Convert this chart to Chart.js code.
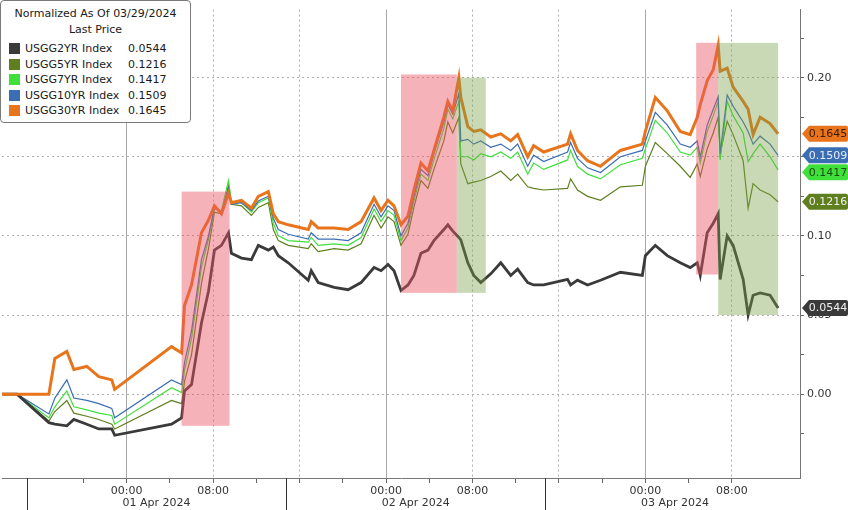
<!DOCTYPE html>
<html>
<head>
<meta charset="utf-8">
<script src="https://cdn.jsdelivr.net/npm/chart.js@4.4.1/dist/chart.umd.min.js"></script>
<style>
	body { margin: 0; background: #fff; }
	#wrap { position: relative; width: 848px; height: 510px; }
	#legend {
		position: absolute; left: 0; top: 0; width: 189px; height: 121px;
		background: #fff; border: 1px solid #7a7a7a; border-radius: 4px;
		font-family: "DejaVu Sans", sans-serif; font-size: 11px; color: #1a1a1a;
	}
	#legend .t { text-align: center; line-height: 16px; }
	#legend .row { position: relative; height: 15.5px; line-height: 15.5px; }
	#legend .sw { position: absolute; left: 8px; top: 2px; width: 11px; height: 11px; }
	#legend .nm { position: absolute; left: 24px; }
	#legend .vl { position: absolute; left: 127px; }
</style>
</head>
<body>
<div id="wrap">
	<canvas id="chart" width="848" height="510"></canvas>
	<div id="legend"></div>
</div>
<script>
// hours relative to 01 Apr 2024 00:00
const hours = [-11.54,-10.15,-7.2,-6.65,-5.54,-4.89,-3.69,-2.58,-1.38,-1.11,
	4.15,5.08,5.35,6.0,6.92,7.57,8.12,8.77,9.42,9.69,
	10.62,11.54,12.18,13.11,13.57,14.03,14.95,16.8,17.08,17.72,
	19.2,20.49,21.69,22.89,23.54,24.18,24.74,25.38,26.03,26.58,
	27.23,27.88,28.43,29.35,29.72,30.18,30.74,30.92,31.57,32.12,
	32.77,33.69,34.62,35.54,36.18,37.11,37.66,38.59,40.8,41.08,
	41.72,42.65,43.85,45.69,47.72,48.0,48.92,50.03,51.23,52.15,
	52.8,53.08,53.72,54.28,54.74,54.92,55.57,56.12,57.05,57.51,
	57.97,58.62,59.54,60.28];

const usgg2 = [0,0,-0.018,-0.019,-0.020,-0.016,-0.019,-0.022,-0.022,-0.026,
	-0.019,-0.015,0.002,0.006,0.045,0.065,0.091,0.094,0.102,0.089,
	0.086,0.085,0.094,0.091,0.093,0.0875,0.083,0.072,0.078,0.0705,
	0.0675,0.066,0.0705,0.080,0.078,0.082,0.078,0.0655,0.069,0.075,
	0.089,0.091,0.097,0.104,0.107,0.103,0.099,0.0975,0.083,0.075,
	0.0705,0.076,0.083,0.075,0.079,0.0705,0.069,0.069,0.0725,0.069,
	0.072,0.069,0.072,0.077,0.075,0.0875,0.094,0.0875,0.083,0.08,
	0.083,0.075,0.102,0.108,0.114,0.0725,0.10,0.094,0.0725,0.05,
	0.0625,0.064,0.0625,0.0544];

const usgg5 = [0,0,-0.017,-0.011,-0.004,-0.012,-0.014,-0.016,-0.019,-0.022,
	-0.004,-0.006,0.008,0.025,0.07,0.092,0.115,0.114,0.132,0.12,
	0.119,0.113,0.118,0.121,0.104,0.097,0.094,0.092,0.095,0.090,
	0.092,0.091,0.095,0.113,0.105,0.112,0.109,0.094,0.101,0.118,
	0.135,0.130,0.142,0.160,0.172,0.165,0.175,0.1455,0.133,0.134,
	0.135,0.1375,0.141,0.135,0.139,0.131,0.130,0.129,0.130,0.136,
	0.129,0.125,0.1225,0.131,0.132,0.144,0.159,0.152,0.144,0.137,
	0.1455,0.1375,0.155,0.165,0.175,0.152,0.1725,0.164,0.1475,0.1175,
	0.133,0.129,0.126,0.1216];

const usgg7 = [0,0,-0.015,-0.008,0.002,-0.008,-0.010,-0.012,-0.0135,-0.019,
	0.004,0.001,0.015,0.035,0.08,0.098,0.117,0.116,0.135,0.122,
	0.121,0.115,0.121,0.124,0.108,0.100,0.097,0.096,0.099,0.094,
	0.095,0.094,0.099,0.117,0.109,0.116,0.113,0.097,0.105,0.122,
	0.139,0.135,0.148,0.168,0.18,0.174,0.185,0.15,0.150,0.148,
	0.152,0.150,0.153,0.149,0.153,0.139,0.146,0.142,0.148,0.154,
	0.144,0.139,0.136,0.145,0.149,0.155,0.173,0.165,0.153,0.151,
	0.156,0.146,0.166,0.176,0.185,0.148,0.185,0.176,0.165,0.147,
	0.152,0.158,0.150,0.1417];

const usgg10 = [0,0,-0.0125,-0.0025,0.009,-0.0025,-0.004,-0.006,-0.009,-0.015,
	0.009,0.006,0.02,0.04,0.085,0.10,0.118,0.115,0.13,0.12,
	0.121,0.116,0.122,0.125,0.111,0.104,0.101,0.098,0.102,0.098,
	0.098,0.097,0.102,0.12,0.112,0.119,0.116,0.100,0.108,0.125,
	0.142,0.138,0.152,0.172,0.183,0.177,0.190,0.160,0.161,0.158,
	0.160,0.156,0.158,0.154,0.158,0.144,0.151,0.147,0.153,0.159,
	0.149,0.143,0.140,0.150,0.154,0.160,0.178,0.170,0.158,0.156,
	0.160,0.150,0.170,0.180,0.188,0.152,0.189,0.182,0.172,0.166,
	0.158,0.163,0.158,0.1509];

const usgg30 = [0,0,0,0.0225,0.027,0.0156,0.0175,0.011,0.009,0.003,
	0.030,0.026,0.056,0.069,0.102,0.110,0.119,0.114,0.127,0.121,
	0.1225,0.1175,0.125,0.128,0.114,0.109,0.107,0.104,0.109,0.105,
	0.105,0.104,0.109,0.124,0.116,0.1225,0.119,0.107,0.1125,0.129,
	0.146,0.141,0.154,0.175,0.185,0.179,0.200,0.1875,0.169,0.166,
	0.167,0.1625,0.1645,0.160,0.164,0.150,0.157,0.153,0.158,0.1645,
	0.154,0.1475,0.144,0.154,0.158,0.166,0.1875,0.179,0.166,0.164,
	0.175,0.183,0.198,0.205,0.2205,0.204,0.206,0.194,0.185,0.180,
	0.164,0.175,0.171,0.1645];

const seriesNames = ['USGG2YR Index', 'USGG5YR Index', 'USGG7YR Index', 'USGG10YR Index', 'USGG30YR Index'];
const lastPrices = ['0.0544', '0.1216', '0.1417', '0.1509', '0.1645'];

// shaded spans: start hour, end hour, top value, bottom value
const spanStart = [5.08, 25.38, 30.55, 52.7, 54.74];
const spanEnd = [9.51, 30.55, 33.23, 54.74, 60.28];
const spanTop = [0.128, 0.202, 0.200, 0.222, 0.222];
const spanBottom = [-0.02, 0.064, 0.064, 0.0756, 0.05];
const spanKind = ['up', 'up', 'down', 'up', 'down'];

// trading day blocks under the axis
const dayBounds = [-9.25, 14.75, 38.75, 62.75];
const dayLabels = ['01 Apr 2024', '02 Apr 2024', '03 Apr 2024'];

const colors = ['#3a3a3a', '#5f7f1e', '#3fe03a', '#3b6db3', '#e8741c'];
const textColors = ['#f0f0f0', '#f0f0f0', '#1d4a10', '#e6eefa', '#3a1a05'];
const widths = [2.8, 1.2, 1.2, 1.2, 3];

var allSeries = [usgg2, usgg5, usgg7, usgg10, usgg30];

// legend box
var lg = document.getElementById('legend');
var html = '<div class="t" style="margin-top:5px">Normalized As Of 03/29/2024</div><div class="t" style="margin-bottom:3px">Last Price</div>';
for (var i = 0; i < seriesNames.length; i++) {
	html += '<div class="row"><span class="sw" style="background:' + colors[i] + '"></span><span class="nm">' + seriesNames[i] + '</span><span class="vl">' + lastPrices[i] + '</span></div>';
}
lg.innerHTML = html;

function isMult(v, step) {
	var r = v / step;
	return Math.abs(r - Math.round(r)) < 1e-6;
}

const spansPlugin = {
	id: 'spans',
	afterDatasetsDraw(chart) {
		const ctx = chart.ctx, xs = chart.scales.x, ys = chart.scales.y;
		ctx.save();
		for (var i = 0; i < spanStart.length; i++) {
			var x1 = xs.getPixelForValue(spanStart[i]), x2 = xs.getPixelForValue(spanEnd[i]);
			var y1 = ys.getPixelForValue(spanTop[i]), y2 = ys.getPixelForValue(spanBottom[i]);
			ctx.fillStyle = spanKind[i] == 'up' ? 'rgba(235,85,100,0.45)' : 'rgba(120,160,70,0.40)';
			ctx.fillRect(x1, y1, x2 - x1, y2 - y1);
		}
		ctx.restore();
	}
};

const axisExtras = {
	id: 'axisExtras',
	afterDraw(chart) {
		const ctx = chart.ctx, xs = chart.scales.x, ys = chart.scales.y;
		const area = chart.chartArea;
		ctx.save();
		// day separators and date labels
		ctx.strokeStyle = '#333';
		ctx.lineWidth = 1;
		ctx.font = '11px "DejaVu Sans"';
		ctx.fillStyle = '#333';
		ctx.textAlign = 'center';
		ctx.textBaseline = 'middle';
		for (var i = 0; i < dayBounds.length; i++) {
			var px = Math.round(xs.getPixelForValue(dayBounds[i])) + 0.5;
			if (px < area.right) {
				ctx.beginPath();
				ctx.moveTo(px, area.bottom);
				ctx.lineTo(px, 510);
				ctx.stroke();
			}
			if (i < dayLabels.length) {
				var mid = (dayBounds[i] + dayBounds[i + 1]) / 2;
				ctx.fillText(dayLabels[i], xs.getPixelForValue(mid), 503);
			}
		}
		// last price tags on the right
		var tags = [];
		for (var k = 0; k < allSeries.length; k++) {
			var s = allSeries[k];
			tags.push({ k: k, y: ys.getPixelForValue(s[s.length - 1]) });
		}
		tags.sort(function (a, b) { return a.y - b.y; });
		for (var t = 1; t < tags.length; t++) {
			if (tags[t].y - tags[t - 1].y < 17) tags[t].y = tags[t - 1].y + 17;
		}
		var left = area.right + 2;
		tags.forEach(function (tg) {
			var y = tg.y;
			ctx.fillStyle = colors[tg.k];
			ctx.beginPath();
			ctx.moveTo(left, y);
			ctx.lineTo(left + 7, y - 8);
			ctx.lineTo(left + 44, y - 8);
			ctx.quadraticCurveTo(left + 46, y - 8, left + 46, y - 6);
			ctx.lineTo(left + 46, y + 6);
			ctx.quadraticCurveTo(left + 46, y + 8, left + 44, y + 8);
			ctx.lineTo(left + 7, y + 8);
			ctx.closePath();
			ctx.fill();
			ctx.fillStyle = textColors[tg.k];
			ctx.font = '11px "DejaVu Sans"';
			ctx.textAlign = 'center';
			ctx.fillText(lastPrices[tg.k], left + 26, y + 0.5);
		});
		ctx.restore();
	}
};

var datasets = [];
for (var d = 0; d < allSeries.length; d++) {
	datasets.push({
		label: seriesNames[d],
		data: hours.map(function (h, i) { return { x: h, y: allSeries[d][i] }; }),
		borderColor: colors[d],
		borderWidth: widths[d],
		pointRadius: 0,
		tension: 0,
		order: d == 4 ? 0 : (d == 0 ? 1 : 5 - d + 1)
	});
}

new Chart(document.getElementById('chart'), {
	type: 'line',
	data: { datasets: datasets },
	options: {
		responsive: false,
		animation: false,
		layout: { padding: { top: 5, left: 0, right: 0, bottom: 0 } },
		plugins: { legend: { display: false }, tooltip: { enabled: false } },
		scales: {
			x: {
				type: 'linear',
				min: -11.54,
				max: 62.31,
				afterFit: function (scale) { scale.height = 32; },
				ticks: {
					stepSize: 4,
					autoSkip: false,
					maxRotation: 0,
					padding: 2,
					color: '#333',
					font: { family: 'DejaVu Sans', size: 11 },
					callback: function (v) {
						if (!isMult(v, 8)) return '';
						var m = ((Math.round(v) % 24) + 24) % 24;
						if (m == 0) return '00:00';
						if (m == 8) return '08:00';
						return '';
					}
				},
				grid: {
					drawTicks: true,
					tickLength: 5,
					color: function (c) {
						if (!c.tick || !isMult(c.tick.value, 8)) return 'rgba(0,0,0,0)';
						return isMult(c.tick.value, 24) ? '#a8a8a8' : '#b0b0b0';
					},
					tickColor: function (c) {
						return c.tick && isMult(c.tick.value, 4) ? '#666' : 'rgba(0,0,0,0)';
					}
				},
				border: {
					color: '#777',
					dash: function (c) {
						return c.tick && isMult(c.tick.value, 24) ? [] : [2, 3];
					}
				}
			},
			y: {
				type: 'linear',
				position: 'right',
				min: -0.053,
				max: 0.243,
				afterFit: function (scale) { scale.width = 48; },
				ticks: {
					stepSize: 0.025,
					autoSkip: false,
					padding: 3,
					color: '#333',
					font: { family: 'DejaVu Sans', size: 11 },
					callback: function (v) {
						return isMult(v, 0.05) ? v.toFixed(2) : '';
					}
				},
				grid: {
					drawTicks: true,
					tickLength: 4,
					color: function (c) {
						return c.tick && isMult(c.tick.value, 0.05) ? '#b0b0b0' : 'rgba(0,0,0,0)';
					},
					tickColor: function (c) {
						return c.tick && isMult(c.tick.value, 0.025) ? '#666' : 'rgba(0,0,0,0)';
					}
				},
				border: { color: '#777', dash: [2, 3] }
			}
		}
	},
	plugins: [spansPlugin, axisExtras]
});
</script>
</body>
</html>
